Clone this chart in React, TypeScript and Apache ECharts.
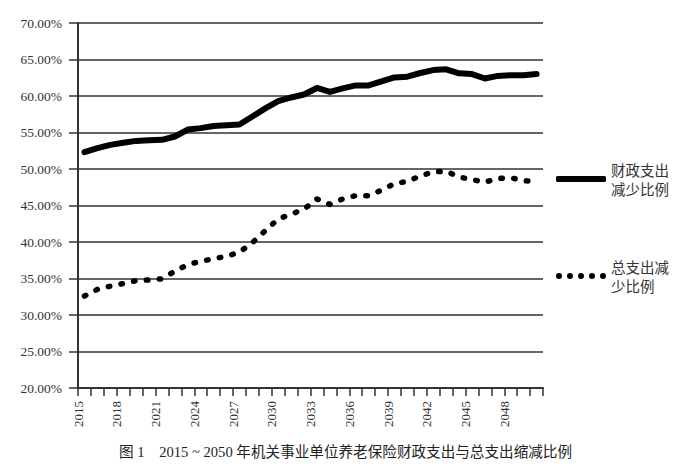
import React, { useEffect, useRef } from 'react';
import * as echarts from 'echarts';

const years = [
  '2015', '2016', '2017', '2018', '2019', '2020', '2021', '2022', '2023', '2024',
  '2025', '2026', '2027', '2028', '2029', '2030', '2031', '2032', '2033', '2034',
  '2035', '2036', '2037', '2038', '2039', '2040', '2041', '2042', '2043', '2044',
  '2045', '2046', '2047', '2048', '2049', '2050',
];

// tick labels sit on tick marks (band boundaries); the last boundary is unlabelled
const tickLabels = [
  '2015', '2016', '2017', '2018', '2019', '2020', '2021', '2022', '2023', '2024',
  '2025', '2026', '2027', '2028', '2029', '2030', '2031', '2032', '2033', '2034',
  '2035', '2036', '2037', '2038', '2039', '2040', '2041', '2042', '2043', '2044',
  '2045', '2046', '2047', '2048', '2049', '2050', '',
];

// percent values
const fiscalRatio = [
  52.3, 52.85, 53.3, 53.6, 53.85, 53.95, 54.0, 54.45, 55.4, 55.6,
  55.9, 56.0, 56.1, 57.2, 58.3, 59.3, 59.8, 60.2, 61.1, 60.55,
  61.05, 61.45, 61.45, 62.0, 62.55, 62.65, 63.15, 63.55, 63.65, 63.1,
  63.0, 62.4, 62.75, 62.85, 62.85, 63.0,
];

const totalRatio = [
  32.6, 33.5, 33.95, 34.3, 34.7, 34.8, 34.95, 36.0, 36.9, 37.35,
  37.7, 38.05, 38.6, 39.9, 41.55, 43.15, 43.8, 44.5, 45.9, 45.15,
  45.9, 46.35, 46.35, 47.1, 48.0, 48.3, 49.05, 49.6, 49.7, 48.9,
  48.55, 48.2, 48.7, 48.8, 48.4, 48.3,
];

const seriesNames = ['财政支出减少比例', '总支出减少比例'];
const caption = '图 1    2015 ~ 2050 年机关事业单位养老保险财政支出与总支出缩减比例';

const serif = "'Liberation Serif', 'Times New Roman', serif";
const cjk = "'Noto Sans CJK SC', sans-serif";
const dotIcon =
  'path://M0,3a3,3 0 1,0 6,0a3,3 0 1,0 -6,0zM11,3a3,3 0 1,0 6,0a3,3 0 1,0 -6,0zM22,3a3,3 0 1,0 6,0a3,3 0 1,0 -6,0zM33,3a3,3 0 1,0 6,0a3,3 0 1,0 -6,0zM44,3a3,3 0 1,0 6,0a3,3 0 1,0 -6,0z';

export default function App() {
  const ref = useRef<HTMLDivElement>(null);

  useEffect(() => {
    const chart = echarts.init(ref.current!, null, { renderer: 'svg' });
    const legendText = {
      fontFamily: cjk,
      fontSize: 14.5,
      color: '#333',
      lineHeight: 19,
    };
    const splitName = (n: string) => n.slice(0, 4) + '\n' + n.slice(4);
    chart.setOption({
      animation: false,
      backgroundColor: '#fff',
      title: {
        text: caption,
        left: 'center',
        top: 440,
        textStyle: {
          fontFamily: "'Liberation Serif', 'Noto Sans CJK SC', serif",
          fontSize: 14.6,
          fontWeight: 'normal',
          color: '#222',
        },
      },
      legend: [
        {
          left: 556,
          top: 160,
          padding: 0,
          orient: 'vertical',
          itemWidth: 50,
          itemHeight: 6,
          itemStyle: { borderWidth: 0 },
          data: [{ name: seriesNames[0], icon: 'roundRect' }],
          formatter: splitName,
          textStyle: legendText,
          selectedMode: false,
        },
        {
          left: 556,
          top: 257,
          padding: 0,
          orient: 'vertical',
          itemWidth: 50,
          itemHeight: 6,
          itemStyle: { borderWidth: 0 },
          data: [{ name: seriesNames[1], icon: dotIcon }],
          formatter: splitName,
          textStyle: legendText,
          selectedMode: false,
        },
      ],
      grid: { left: 78, right: 148, top: 23, bottom: 86, containLabel: false },
      xAxis: [
        {
          type: 'category',
          data: years,
          position: 'bottom',
          boundaryGap: true,
          axisLine: { show: true, lineStyle: { color: '#333', width: 2 } },
          axisTick: { show: true, length: 8, interval: 0, lineStyle: { color: '#333', width: 1.5 } },
          axisLabel: { show: false },
          splitLine: { show: false },
        },
        {
          type: 'category',
          data: tickLabels,
          position: 'bottom',
          boundaryGap: false,
          axisLine: { show: false },
          axisTick: { show: false },
          splitLine: { show: false },
          axisLabel: {
            show: true,
            rotate: 90,
            margin: 13,
            interval: (i: number) => i % 3 === 0,
            fontFamily: serif,
            fontSize: 13,
            color: '#333',
          },
        },
      ],
      yAxis: {
        type: 'value',
        min: 20,
        max: 70,
        interval: 5,
        axisLine: { show: true, lineStyle: { color: '#333', width: 2 } },
        axisTick: { show: true, length: 9, lineStyle: { color: '#333', width: 1.5 } },
        axisLabel: {
          margin: 16,
          fontFamily: serif,
          fontSize: 13.5,
          color: '#333',
          formatter: (v: number) => v.toFixed(2) + '%',
        },
        splitLine: { show: true, lineStyle: { color: '#333', width: 1.5 } },
      },
      series: [
        {
          name: seriesNames[0],
          type: 'line',
          xAxisIndex: 0,
          data: fiscalRatio,
          symbol: 'none',
          color: '#000',
          lineStyle: { color: '#000', width: 6, cap: 'round', join: 'round' },
          z: 3,
        },
        {
          name: seriesNames[1],
          type: 'line',
          xAxisIndex: 0,
          data: totalRatio,
          symbol: 'none',
          color: '#000',
          lineStyle: { color: '#000', width: 5.5, type: [1.5, 11.4], cap: 'round', join: 'round' },
          z: 3,
        },
      ],
    });
    return () => chart.dispose();
  }, []);

  return (
    <div
      ref={ref}
      style={{ position: 'absolute', left: 0, top: 0, width: 691, height: 474, background: '#fff' }}
    />
  );
}
